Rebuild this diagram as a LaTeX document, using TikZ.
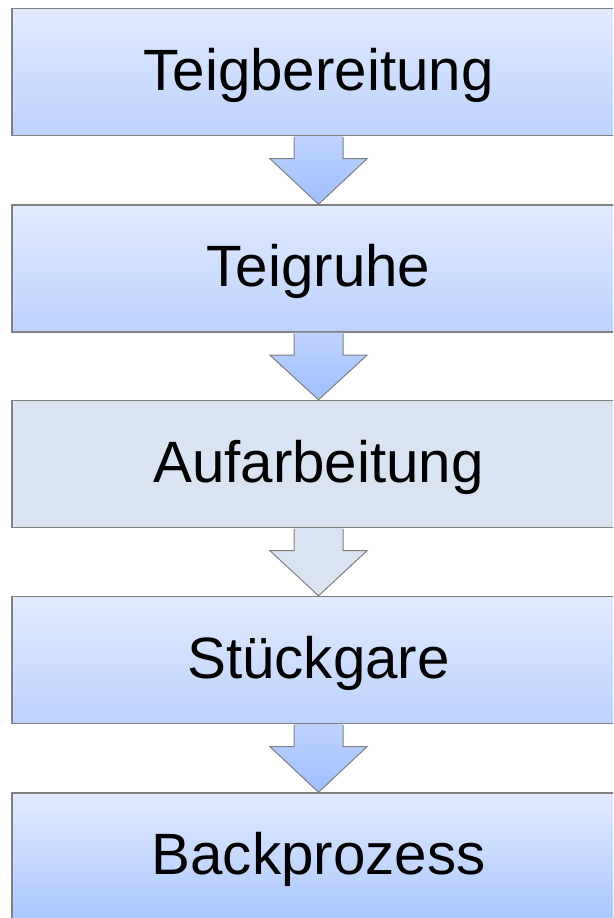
\documentclass[tikz,border=0pt]{standalone}
\usepackage{fontspec}
\setmainfont{Liberation Sans}
\usetikzlibrary{calc}
\definecolor{boxtop}{RGB}{226,234,255}
\definecolor{boxbot}{RGB}{188,210,255}
\definecolor{boxbotlast}{RGB}{170,199,255}
\definecolor{flatbox}{RGB}{218,227,241}
\definecolor{arrtop}{RGB}{190,210,255}
\definecolor{arrbot}{RGB}{158,191,255}
\definecolor{edge}{RGB}{128,128,128}
\tikzset{
  stepbox/.style={rectangle, draw=edge, line width=1.4pt,
    minimum width=613pt, minimum height=127pt, inner sep=0pt,
    font=\fontsize{58.3}{66}\selectfont, text=black},
  bluebox/.style={stepbox, top color=boxtop, bottom color=boxbot},
  greybox/.style={stepbox, fill=flatbox},
  arrowline/.style={draw=edge, line width=1pt, line join=miter},
  steplabel/.style={font=\fontsize{58.3}{66}\selectfont, text=black, inner sep=0pt}
}
% draws a block arrow from the bottom of box #1 to the top of box #2
% (y axis points down, so positive offsets go down)
\newcommand{\blockarrow}[3]{%
  \path[#3]
    ($(#1.south)+(-24.5,0)$) -- ($(#1.south)+(-24.5,22.5)$) --
    ($(#1.south)+(-48.5,22.5)$) -- (#2.north) --
    ($(#1.south)+(48.5,22.5)$) -- ($(#1.south)+(24.5,22.5)$) --
    ($(#1.south)+(24.5,0)$) -- cycle;
  \draw[arrowline]
    ($(#1.south)+(-24.5,0.8)$) -- ($(#1.south)+(-24.5,22.5)$) --
    ($(#1.south)+(-48.5,22.5)$) -- (#2.north) --
    ($(#1.south)+(48.5,22.5)$) -- ($(#1.south)+(24.5,22.5)$) --
    ($(#1.south)+(24.5,0.8)$);}
\begin{document}
\begin{tikzpicture}[x=1pt, y=-1pt]
\useasboundingbox (0,0) rectangle (613,918);
\clip (0,0) rectangle (613,918);
\fill[white] (0,0) rectangle (613,918);
% process steps
\node[bluebox] (s1) at (318.5, 72)   {};
\node[bluebox] (s2) at (318.5, 268.5) {};
\node[greybox] (s3) at (318.5, 464) {};
\node[bluebox] (s4) at (318.5, 660) {};
\node[bluebox, bottom color=boxbotlast] (s5) at (318.5, 856.5) {};
% step labels
\node[steplabel] (t1) at ($(s1.center)+(0,3)$) {Teigbereitung};
\node[steplabel] (t2) at ($(s2.center)+(0,3)$) {Teigruhe};
\node[steplabel] (t3) at ($(s3.center)+(0,3)$) {Aufarbeitung};
\node[steplabel] (t4) at ($(s4.center)+(0,3)$) {Stückgare};
\node[steplabel] (t5) at ($(s5.center)+(0,3)$) {Backprozess};
% connecting block arrows
\blockarrow{s1}{s2}{top color=arrtop, bottom color=arrbot}
\blockarrow{s2}{s3}{top color=arrtop, bottom color=arrbot}
\blockarrow{s3}{s4}{fill=flatbox}
\blockarrow{s4}{s5}{top color=arrtop, bottom color=arrbot}
\end{tikzpicture}
\end{document}
